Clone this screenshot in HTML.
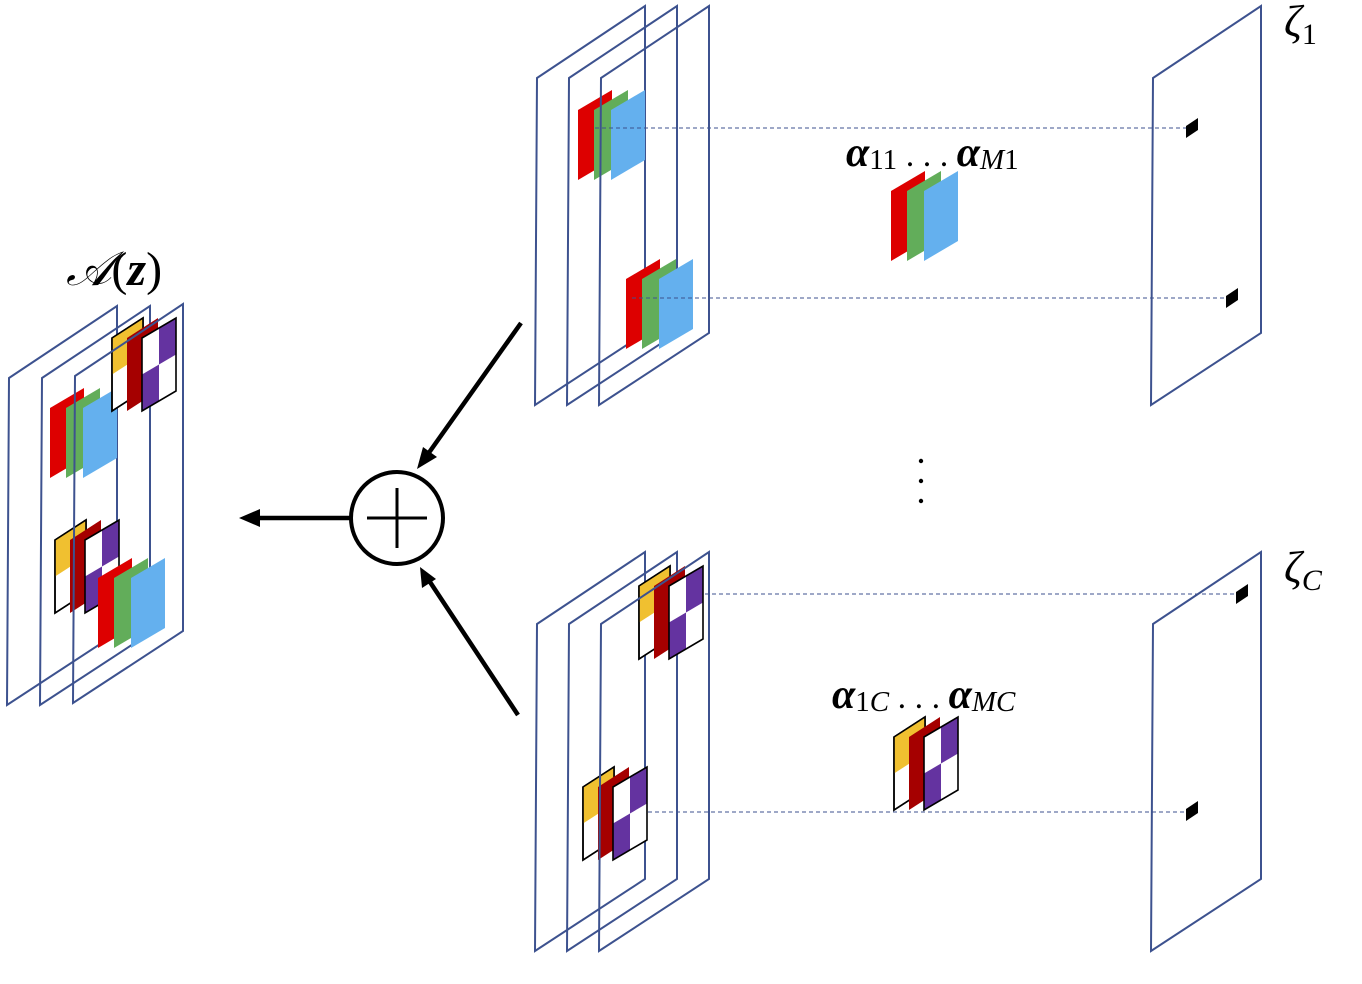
<!DOCTYPE html>
<html><head><meta charset="utf-8"><style>
html,body{margin:0;padding:0;background:#fff;}
svg{display:block;}
.t{font-family:"Liberation Serif",serif;}
</style></head><body>
<svg width="1362" height="984" viewBox="0 0 1362 984" xmlns="http://www.w3.org/2000/svg">
<defs>
  <g id="plane"><polygon points="0,72 108,0 108,327 -2,399" fill="none" stroke="#3d528f" stroke-width="2"/></g>
  <g id="cp">
    <polygon points="0,20 34,0 34,70 0,90" fill="#dd0000"/>
    <polygon points="16,20 50,0 50,70 16,90" fill="#62ad5a"/>
    <polygon points="33,20 67,0 67,70 33,90" fill="#64b0ee"/>
  </g>
  <g id="ck">
    <polygon points="0,20 31,0 31,73 0,93" fill="#fff" stroke="#000" stroke-width="1.6"/>
    <polygon points="0,20 31,0 31,36.5 0,56.5" fill="#f0c030"/>
    <polygon points="0,20 31,0 31,73 0,93" fill="none" stroke="#000" stroke-width="1.6"/>
    <polygon points="15,20 46,0 46,73 15,93" fill="#a50000"/>
    <g transform="translate(30,0)">
      <polygon points="0,20 34,0 34,73 0,93" fill="#fff"/>
      <polygon points="17,10 34,0 34,36.5 17,46.5" fill="#6433a0"/>
      <polygon points="0,56.5 17,46.5 17,83 0,93" fill="#6433a0"/>
      <polygon points="0,20 34,0 34,73 0,93" fill="none" stroke="#000" stroke-width="1.6"/>
    </g>
  </g>
  <g id="blk"><polygon points="0,6 12,-2 12,10 0,18" fill="#000"/></g>
</defs>

<use href="#plane" x="9" y="306"/>
<use href="#cp" x="50" y="388"/>
<use href="#plane" x="42" y="306"/>
<use href="#ck" x="112" y="318"/>
<use href="#ck" x="55" y="520"/>
<use href="#cp" x="98" y="558"/>
<use href="#plane" x="75" y="304"/>

<use href="#plane" x="537" y="6"/>
<use href="#plane" x="569" y="6"/>
<use href="#cp" x="578" y="90"/>
<use href="#plane" x="601" y="6"/>
<use href="#cp" x="626" y="259"/>

<use href="#plane" x="537" y="552"/>
<use href="#plane" x="569" y="552"/>
<use href="#ck" x="639" y="566"/>
<use href="#ck" x="583" y="767"/>
<use href="#plane" x="601" y="552"/>

<g stroke="#3d528f" stroke-width="1" stroke-dasharray="4,3">
  <line x1="595" y1="128" x2="1190" y2="128"/>
  <line x1="632" y1="298" x2="1228" y2="298"/>
  <line x1="705" y1="594" x2="1240" y2="594"/>
  <line x1="648" y1="812" x2="1190" y2="812"/>
</g>

<use href="#plane" x="1153" y="6"/>
<use href="#plane" x="1153" y="552"/>
<use href="#blk" x="1186" y="120"/>
<use href="#blk" x="1226" y="290"/>
<use href="#blk" x="1236" y="586"/>
<use href="#blk" x="1186" y="803"/>

<use href="#cp" x="891" y="171"/>
<use href="#ck" x="894" y="717"/>

<circle cx="921" cy="461" r="2.2" fill="#000"/>
<circle cx="921" cy="481" r="2.2" fill="#000"/>
<circle cx="921" cy="501" r="2.2" fill="#000"/>

<circle cx="397" cy="518" r="46" fill="#fff" stroke="#000" stroke-width="4"/>
<line x1="367" y1="518" x2="427" y2="518" stroke="#000" stroke-width="3"/>
<line x1="397" y1="488" x2="397" y2="548" stroke="#000" stroke-width="3"/>

<g stroke="#000" stroke-width="4.5" fill="none">
  <line x1="350" y1="518" x2="256" y2="518"/>
  <line x1="521" y1="323" x2="428" y2="454"/>
  <line x1="518" y1="715" x2="430" y2="582"/>
</g>
<polygon points="239,518 260,509 260,527" fill="#000"/>
<polygon points="417,469 423,447 437,457" fill="#000"/>
<polygon points="420,567 436,579 422,588" fill="#000"/>

<text class="t" x="66" y="285" font-size="48" font-style="italic">𝒜<tspan font-style="normal">(</tspan><tspan font-weight="bold">z</tspan><tspan font-style="normal">)</tspan></text>
<text class="t" x="846" y="166" font-size="42" font-weight="bold" font-style="italic">α<tspan font-size="29" font-weight="normal" font-style="normal" dy="3">11</tspan><tspan dy="-3" font-size="34" font-weight="normal" font-style="normal"> . . . </tspan>α<tspan font-size="29" font-weight="normal" dy="3">M</tspan><tspan font-size="29" font-weight="normal" font-style="normal">1</tspan></text>
<text class="t" x="832" y="708" font-size="42" font-weight="bold" font-style="italic">α<tspan font-size="29" font-weight="normal" font-style="normal" dy="3">1</tspan><tspan font-size="29" font-weight="normal">C</tspan><tspan dy="-3" font-size="34" font-weight="normal" font-style="normal"> . . . </tspan>α<tspan font-size="29" font-weight="normal" dy="3">MC</tspan></text>
<text class="t" x="1284" y="36" font-size="44" font-style="italic">ζ<tspan font-size="30" font-style="normal" dy="8">1</tspan></text>
<text class="t" x="1284" y="582" font-size="44" font-style="italic">ζ<tspan font-size="30" dy="8">C</tspan></text>
</svg>
</body></html>
